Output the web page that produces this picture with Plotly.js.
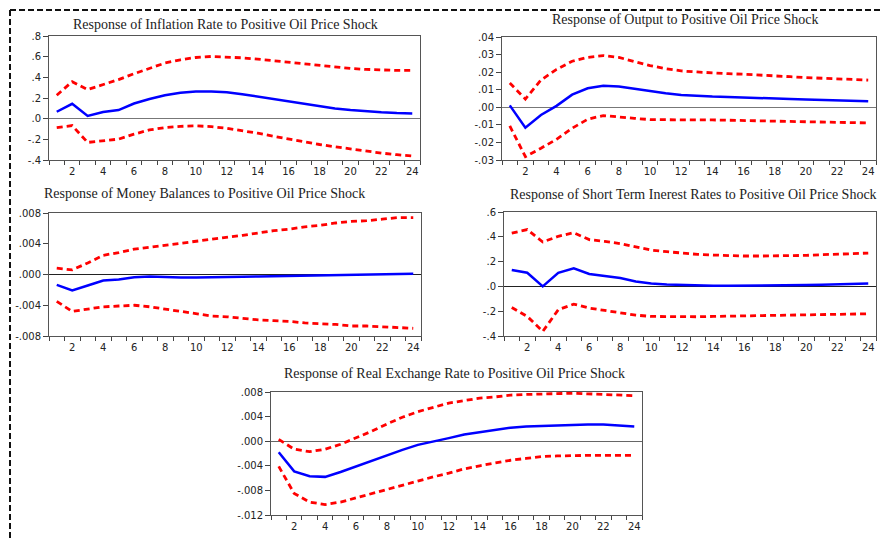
<!DOCTYPE html>
<html>
<head>
<meta charset="utf-8">
<script src="https://cdn.plot.ly/plotly-3.0.1.min.js"></script>
<style>html,body{margin:0;padding:0;background:#fff;}#chart{width:882px;height:540px;}</style>
</head>
<body>
<div id="chart"></div>
<script>
// Periods
const periods = [1,2,3,4,5,6,7,8,9,10,11,12,13,14,15,16,17,18,19,20,21,22,23,24];
const xTickVals = [2,4,6,8,10,12,14,16,18,20,22,24];
const xTickText = ['2','4','6','8','10','12','14','16','18','20','22','24'];

// Titles
const titles = [
  'Response of Inflation Rate to Positive Oil Price Shock',
  'Response of Output to Positive Oil Price Shock',
  'Response of Money Balances to Positive Oil Price Shock',
  'Response of Short Term Inerest Rates to Positive Oil Price Shock',
  'Response of Real Exchange Rate to Positive Oil Price Shock'
];

// Panel 1: Inflation rate
const inflResp  = [0.067,0.144,0.026,0.064,0.083,0.147,0.19,0.227,0.25,0.262,0.262,0.256,0.237,0.214,0.189,0.163,0.138,0.118,0.099,0.083,0.07,0.061,0.054,0.051];
const inflUpper = [0.227,0.358,0.282,0.33,0.378,0.435,0.49,0.538,0.57,0.592,0.602,0.598,0.589,0.576,0.56,0.544,0.528,0.512,0.5,0.486,0.477,0.47,0.467,0.467];
const inflLower = [-0.086,-0.067,-0.23,-0.214,-0.198,-0.15,-0.109,-0.086,-0.074,-0.07,-0.077,-0.093,-0.115,-0.141,-0.17,-0.198,-0.224,-0.25,-0.272,-0.294,-0.317,-0.333,-0.349,-0.362];
const inflTickVals = [-0.4,-0.2,0,0.2,0.4,0.6,0.8];
const inflTickText = ['-.4','-.2','.0','.2','.4','.6','.8'];

// Panel 2: Output
const outResp  = [0.0011,-0.0116,-0.0044,0.0008,0.0072,0.0108,0.0123,0.0118,0.0106,0.0091,0.008,0.007,0.0064,0.0061,0.0059,0.0057,0.0053,0.0049,0.0047,0.0044,0.0042,0.0038,0.0036,0.0034];
const outUpper = [0.0138,0.0047,0.0155,0.0216,0.0262,0.0284,0.0294,0.0284,0.026,0.0237,0.022,0.0207,0.0201,0.0195,0.0191,0.0188,0.0182,0.0178,0.0174,0.0169,0.0165,0.0161,0.0159,0.0155];
const outLower = [-0.0106,-0.0281,-0.0233,-0.0182,-0.0119,-0.0068,-0.0047,-0.0053,-0.0063,-0.007,-0.0072,-0.0072,-0.0072,-0.0072,-0.0074,-0.0076,-0.0078,-0.008,-0.0082,-0.0083,-0.0085,-0.0087,-0.0087,-0.0089];
const outTickVals = [-0.03,-0.02,-0.01,0,0.01,0.02,0.03,0.04];
const outTickText = ['-.03','-.02','-.01','.00','.01','.02','.03','.04'];

// Panel 3: Money balances
const monResp  = [-0.00134,-0.00208,-0.00143,-0.00078,-0.00065,-0.00035,-0.00026,-0.00035,-0.00039,-0.00039,-0.00039,-0.00035,-0.0003,-0.00026,-0.00022,-0.00017,-0.00017,-0.00013,-0.00009,-0.00004,0,0.00004,0.00009,0.00009];
const monUpper = [0.00082,0.0006,0.0015,0.0025,0.00285,0.0033,0.00355,0.0038,0.0041,0.0043,0.0046,0.0048,0.0051,0.0054,0.0057,0.0059,0.0062,0.0064,0.0067,0.0069,0.007,0.0072,0.0074,0.0074];
const monLower = [-0.0035,-0.0048,-0.0045,-0.0042,-0.0041,-0.004,-0.0042,-0.0045,-0.0048,-0.0051,-0.0054,-0.0055,-0.0057,-0.0059,-0.006,-0.0061,-0.0063,-0.0064,-0.0065,-0.0067,-0.0067,-0.0068,-0.0069,-0.007];
const monTickVals = [-0.008,-0.004,0,0.004,0.008];
const monTickText = ['-.008','-.004','.000','.004','.008'];

// Panel 4: Short term interest rates
const intResp  = [0.132,0.11,0.0,0.11,0.145,0.1,0.083,0.067,0.04,0.024,0.016,0.011,0.008,0.005,0.005,0.005,0.005,0.008,0.008,0.011,0.013,0.016,0.019,0.024];
const intUpper = [0.43,0.458,0.358,0.404,0.433,0.377,0.363,0.345,0.318,0.293,0.28,0.266,0.258,0.253,0.248,0.245,0.245,0.245,0.248,0.25,0.256,0.258,0.264,0.269];
const intLower = [-0.17,-0.242,-0.363,-0.188,-0.143,-0.175,-0.194,-0.215,-0.232,-0.242,-0.245,-0.248,-0.245,-0.242,-0.24,-0.237,-0.234,-0.232,-0.229,-0.229,-0.226,-0.223,-0.223,-0.221];
const intTickVals = [-0.4,-0.2,0,0.2,0.4,0.6];
const intTickText = ['-.4','-.2','.0','.2','.4','.6'];

// Panel 5: Real exchange rate
const rerResp  = [-0.0018,-0.0049,-0.0057,-0.0058,-0.005,-0.0041,-0.0031,-0.0023,-0.0014,-0.0006,-0.0001,0.0005,0.0011,0.0015,0.0019,0.0022,0.0024,0.0025,0.0026,0.0027,0.0027,0.0027,0.0026,0.0024];
const rerUpper = [0.0003,-0.0013,-0.0017,-0.0013,-0.0005,0.0005,0.0016,0.0028,0.0039,0.0048,0.0055,0.0062,0.0066,0.007,0.0072,0.0075,0.0076,0.0077,0.0078,0.0078,0.0077,0.0076,0.0075,0.0074];
const rerLower = [-0.0041,-0.0085,-0.0099,-0.0103,-0.0099,-0.0092,-0.0085,-0.0079,-0.0072,-0.0065,-0.0058,-0.0052,-0.0045,-0.004,-0.0035,-0.0031,-0.0028,-0.0025,-0.0024,-0.0023,-0.0023,-0.0023,-0.0023,-0.0023];
const rerTickVals = [-0.012,-0.008,-0.004,0,0.004,0.008];
const rerTickText = ['-.012','-.008','-.004','.000','.004','.008'];

const W = 882, H = 540;
const px = v => v / W;
const py = v => 1 - v / H;

const panels = [
  {resp: inflResp, up: inflUpper, lo: inflLower, tv: inflTickVals, tt: inflTickText, yr: [-0.4, 0.8],
   box: [49, 420, 36, 160], title: [225, 25], zc: '#777'},
  {resp: outResp, up: outUpper, lo: outLower, tv: outTickVals, tt: outTickText, yr: [-0.03, 0.04],
   box: [502, 876, 37, 160], title: [685, 19], zc: '#777'},
  {resp: monResp, up: monUpper, lo: monLower, tv: monTickVals, tt: monTickText, yr: [-0.008, 0.008],
   box: [49, 421, 213, 336], title: [204, 193], zc: '#222'},
  {resp: intResp, up: intUpper, lo: intLower, tv: intTickVals, tt: intTickText, yr: [-0.4, 0.6],
   box: [504, 876, 212, 336], title: [693, 194], zc: '#222'},
  {resp: rerResp, up: rerUpper, lo: rerLower, tv: rerTickVals, tt: rerTickText, yr: [-0.012, 0.008],
   box: [271, 642, 392, 515], title: [454, 374], zc: '#666'}
];

const tickFont = {family: 'DejaVu Sans', size: 10, color: '#222'};
const traces = [];
const layout = {
  width: W, height: H,
  margin: {l: 0, r: 0, t: 0, b: 0},
  paper_bgcolor: '#fff', plot_bgcolor: '#fff',
  showlegend: false,
  annotations: [], shapes: []
};

panels.forEach((p, i) => {
  const n = i + 1;
  const xa = n === 1 ? 'x' : 'x' + n;
  const ya = n === 1 ? 'y' : 'y' + n;
  const red = {color: '#ff0000', width: 2.8, dash: '6px,4px'};
  traces.push({x: periods, y: p.up, xaxis: xa, yaxis: ya, mode: 'lines', line: red, hoverinfo: 'skip'});
  traces.push({x: periods, y: p.lo, xaxis: xa, yaxis: ya, mode: 'lines', line: red, hoverinfo: 'skip'});
  traces.push({x: periods, y: p.resp, xaxis: xa, yaxis: ya, mode: 'lines', line: {color: '#0000ff', width: 2.5}, hoverinfo: 'skip'});

  const [x0, x1, y0, y1] = p.box;
  layout['xaxis' + (n === 1 ? '' : n)] = {
    domain: [px(x0), px(x1)], anchor: ya,
    range: [0.5, 24.5], tickmode: 'array', tickvals: xTickVals, ticktext: xTickText,
    ticks: '', showgrid: false, zeroline: false,
    showline: true, mirror: true, linecolor: '#555', linewidth: 1,
    tickfont: tickFont, ticklabelstandoff: 2,
    minor: {ticks: 'outside', tickmode: 'linear', tick0: 0.5, dtick: 1, ticklen: 4, tickcolor: '#444', tickwidth: 1, showgrid: false}
  };
  layout['yaxis' + (n === 1 ? '' : n)] = {
    domain: [py(y1), py(y0)], anchor: xa,
    range: p.yr, tickmode: 'array', tickvals: p.tv, ticktext: p.tt,
    ticks: 'outside', ticklen: 5, tickcolor: '#444', tickwidth: 1,
    showgrid: false, zeroline: true, zerolinecolor: p.zc, zerolinewidth: 1,
    showline: true, mirror: true, linecolor: '#555', linewidth: 1,
    tickfont: tickFont
  };
  layout.annotations.push({
    xref: 'paper', yref: 'paper', x: px(p.title[0]), y: py(p.title[1]),
    xanchor: 'center', yanchor: 'middle', showarrow: false,
    text: titles[i], font: {family: 'Liberation Serif', size: 14, color: '#222'}
  });
});

// Dashed frame around the figure
layout.shapes.push({type: 'line', xref: 'paper', yref: 'paper', x0: px(10), x1: 1, y0: py(10), y1: py(10),
  line: {color: '#111', width: 2, dash: '6px,3px'}});
layout.shapes.push({type: 'line', xref: 'paper', yref: 'paper', x0: px(10), x1: px(10), y0: py(10), y1: 0,
  line: {color: '#111', width: 2, dash: '6px,3px'}});

Plotly.newPlot('chart', traces, layout, {displayModeBar: false, staticPlot: true});
</script>
</body>
</html>
